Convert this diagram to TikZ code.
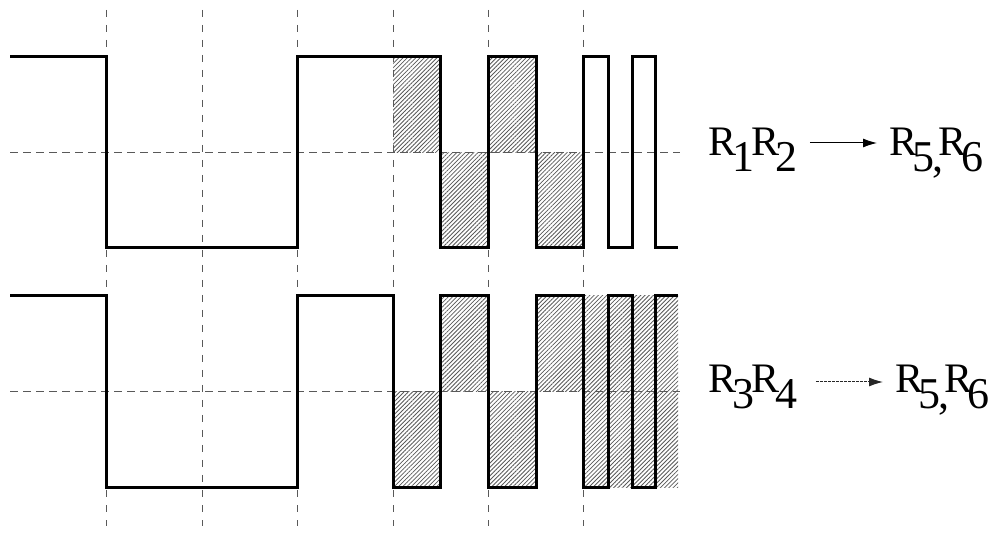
\documentclass[tikz,border=0pt]{standalone}
\usepackage{fontspec}
\setmainfont{Liberation Serif}
\usetikzlibrary{arrows.meta,patterns.meta}
% lowered index digits set next to a capital R
\newcommand\idx[1]{\raisebox{-8pt}{\fontsize{22}{22}\selectfont #1}}
\begin{document}
\begin{tikzpicture}[x=0.5pt,y=-0.5pt,
  vgrid/.style={draw=black!65,line width=0.5pt,dash pattern=on 3.5pt off 4pt},
  hgrid/.style={draw=black!65,line width=0.5pt,dash pattern=on 4pt off 2.5pt},
  wave/.style={line width=1.5pt,line join=miter,line cap=butt},
  hatch/.style={pattern={Lines[angle=45,distance=1.5pt,line width=0.4pt]},pattern color=black!65},
  lbl/.style={inner sep=0pt,anchor=base west,font=\fontsize{21}{25}\selectfont},
  conn/.style={line width=0.5pt,-{Latex[length=7pt,width=4.5pt]}},
]
\useasboundingbox (0,0) rectangle (1000,533);

% shaded error regions
\foreach \a/\b/\c/\d in {393/57/440/152.5, 440/152.5/488/248, 488/57/536/152.5, 536/152.5/583/248,
                         393/391.5/440/487, 440/296/488/391.5, 488/391.5/536/487, 536/296/583/391.5, 583/296/678/487}
  \fill[hatch] (\a,\b) rectangle (\c,\d);

% time grid
\foreach \x in {106,202,297,393,488,583}
  \draw[vgrid] (\x,10) -- (\x,526);
\draw[hgrid] (10,152.5) -- (680,152.5);
\draw[hgrid] (10,391.5) -- (680,391.5);

% upper waveform
\draw[wave] (10,57) -| (106,248) -| (297,57) -| (440,248) -| (488,57) -| (536,248)
  -| (583,57) -| (608,248) -| (632,57) -| (655,248) -- (678,248);
% lower waveform
\draw[wave] (10,296) -| (106,487) -| (297,296) -| (393,487) -| (440,296) -| (488,487)
  -| (536,296) -| (583,487) -| (608,296) -| (632,487) -| (655,296) -- (678,296);

% labels
\node[lbl] (l1) at (708,156) {R\kern-2pt\idx{1}\kern-1.5pt R\kern-2pt\idx{2}};
\node[lbl] (r1) at (889,156) {R\kern-2.5pt\idx{5\kern-1pt,}\kern-2.5pt R\kern-2.5pt\idx{6}};
\node[lbl] (l2) at (708,393) {R\kern-2pt\idx{3}\kern-1.5pt R\kern-2pt\idx{4}};
\node[lbl] (r2) at (895,393) {R\kern-2.5pt\idx{5\kern-1pt,}\kern-2.5pt R\kern-2.5pt\idx{6}};

\coordinate (ay1) at (0,143);
\coordinate (ay2) at (0,382);
\draw[conn,shorten <=6pt,shorten >=6pt] (l1.east |- ay1) -- (r1.west |- ay1);
\draw[conn,draw=black!85,dash pattern=on 1.5pt off 0.5pt,shorten <=9pt,shorten >=6pt]
  (l2.east |- ay2) -- (r2.west |- ay2);
\end{tikzpicture}
\end{document}
